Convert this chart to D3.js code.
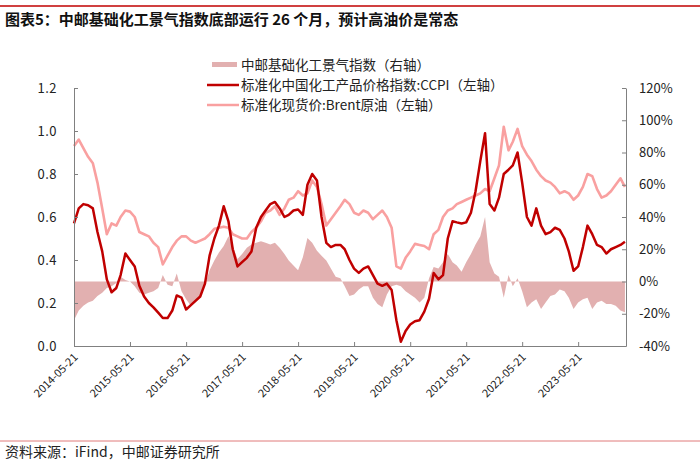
<!DOCTYPE html>
<html>
<head>
<meta charset="utf-8">
<script src="https://cdn.jsdelivr.net/npm/d3@7"></script>
<style>
  body { margin: 0; background: #fff; }
  text { font-family: "Noto Sans CJK SC", "Liberation Sans", sans-serif; }
</style>
</head>
<body>
<script>
// monthly readings from 2014-05 to 2024-03
const ccpi = [
  0.57, 0.64, 0.66, 0.655, 0.64, 0.53, 0.44, 0.31, 0.25, 0.27,
  0.33, 0.43, 0.40, 0.37, 0.28, 0.23, 0.20, 0.18, 0.155, 0.13,
  0.13, 0.165, 0.235, 0.225, 0.17, 0.19, 0.21, 0.23, 0.29, 0.42,
  0.50, 0.56, 0.65, 0.58, 0.45, 0.37, 0.39, 0.41, 0.44, 0.55,
  0.60, 0.63, 0.66, 0.67, 0.64, 0.60, 0.61, 0.63, 0.635, 0.61,
  0.75, 0.80, 0.77, 0.60, 0.48, 0.46, 0.47, 0.47, 0.45, 0.40,
  0.36, 0.34, 0.36, 0.37, 0.33, 0.29, 0.28, 0.29, 0.26, 0.12,
  0.02, 0.07, 0.10, 0.115, 0.12, 0.16, 0.22, 0.34, 0.31, 0.33,
  0.50, 0.58, 0.575, 0.57, 0.575, 0.62, 0.72, 0.86, 0.99, 0.66,
  0.63, 0.69, 0.80, 0.82, 0.84, 0.90, 0.76, 0.60, 0.56, 0.64,
  0.56, 0.52, 0.53, 0.55, 0.54, 0.50, 0.44, 0.35, 0.37, 0.46,
  0.56, 0.52, 0.47, 0.46, 0.43, 0.45, 0.46, 0.47, 0.485
];
const brent = [
  0.93, 0.96, 0.92, 0.88, 0.85, 0.76, 0.64, 0.52, 0.57, 0.56,
  0.60, 0.63, 0.625, 0.60, 0.53, 0.52, 0.51, 0.48, 0.46, 0.38,
  0.42, 0.46, 0.49, 0.51, 0.51, 0.49, 0.48, 0.49, 0.50, 0.52,
  0.545, 0.55, 0.555, 0.55, 0.52, 0.51, 0.50, 0.50, 0.53, 0.55,
  0.58, 0.62, 0.63, 0.65, 0.61, 0.64, 0.68, 0.69, 0.72, 0.70,
  0.71, 0.77, 0.74, 0.66, 0.56, 0.59, 0.62, 0.65, 0.68, 0.66,
  0.62, 0.61, 0.63, 0.62, 0.59, 0.61, 0.63, 0.60, 0.55, 0.37,
  0.36, 0.41, 0.44, 0.475, 0.47, 0.465, 0.45, 0.52, 0.54, 0.60,
  0.63, 0.64, 0.66, 0.67, 0.68, 0.69, 0.70, 0.71, 0.73, 0.72,
  0.78, 0.84, 1.02, 0.91, 0.95, 1.01, 0.93, 0.89, 0.86, 0.82,
  0.79, 0.77, 0.76, 0.74, 0.71, 0.72, 0.71, 0.68, 0.70, 0.74,
  0.80, 0.79, 0.73, 0.69, 0.70, 0.72, 0.75, 0.78, 0.74
];
// 景气指数, percent, right axis
const boom = [
  -24, -18, -15, -13, -12, -9, -7, -4, -3, -1,
  3, 1, 0, -3, -7, -8, -7, -6, -4, 4,
  -2, -3, 5, -6, -11, -15, -13, -10, -2, 7,
  13, 18, 22, 28, 22, 14, 17, 21, 23, 24,
  25, 24, 23, 24, 21, 17, 13, 10, 7, 15,
  27, 24, 19, 16, 13, 8, 3, 2, -3, -9,
  -8, -5, -3, -3, -10, -14, -16, -8, -3, -2,
  -3, -6, -8, -10, -13, -10, 2, 9, 8, 12,
  17, 12, 10, 6, 12, 17, 23, 28, 40, 12,
  5, 3, -10, 4, -3, 2, -6, -16, -13, -11,
  -17, -13, -9, -8, -5, -6, -10, -17, -13, -11,
  -10, -17, -13, -12, -14, -14, -15, -18, -19
];
const leftTicks = [0, 0.2, 0.4, 0.6, 0.8, 1.0, 1.2];
const rightTicks = [-40, -20, 0, 20, 40, 60, 80, 100, 120];
const xTickYears = [2014, 2015, 2016, 2017, 2018, 2019, 2020, 2021, 2022, 2023];

const legendNames = [
  "中邮基础化工景气指数（右轴）",
  "标准化中国化工产品价格指数:CCPI（左轴）",
  "标准化现货价:Brent原油（左轴）"
];

const width = 700, height = 466;
const pLeft = 74, pRight = 626, pTop = 88, pBottom = 346;
const cArea = "#e2b0b0", cCcpi = "#c00000", cBrent = "#f9a0a0";

const startDate = new Date(2014, 4, 21);
const dates = ccpi.map((_, i) => d3.timeMonth.offset(startDate, i));

const svg = d3.select("body").append("svg")
  .attr("width", width)
  .attr("height", height);

const x = d3.scaleTime()
  .domain([startDate, new Date(2024, 2, 28)])
  .range([pLeft, pRight]);
const yL = d3.scaleLinear().domain([0, 1.2]).range([pBottom, pTop]);
const yR = d3.scaleLinear().domain([-40, 120]).range([pBottom, pTop]);

// title + frame lines
svg.append("line").attr("x1", 0).attr("x2", width).attr("y1", 6).attr("y2", 6)
  .attr("stroke", "#c00000").attr("stroke-width", 1.5);
svg.append("text").attr("x", 5).attr("y", 25)
  .attr("font-size", 15).attr("font-weight", "bold").attr("fill", "#111")
  .text("图表5：中邮基础化工景气指数底部运行 26 个月，预计高油价是常态");

svg.append("line").attr("x1", 0).attr("x2", width).attr("y1", 441).attr("y2", 441)
  .attr("stroke", "#e07a7a").attr("stroke-width", 1);
svg.append("text").attr("x", 5).attr("y", 457)
  .attr("font-size", 14).attr("fill", "#222")
  .text("资料来源：iFind，中邮证券研究所");

// area for the index
const area = d3.area()
  .x((d, i) => x(dates[i]))
  .y0(yR(0))
  .y1(d => yR(d));
svg.append("path").datum(boom)
  .attr("d", area)
  .attr("fill", cArea);

const lineL = d3.line()
  .x((d, i) => x(dates[i]))
  .y(d => yL(d));
svg.append("path").datum(brent)
  .attr("d", lineL)
  .attr("fill", "none")
  .attr("stroke", cBrent)
  .attr("stroke-width", 2.6)
  .attr("stroke-linejoin", "round");
svg.append("path").datum(ccpi)
  .attr("d", lineL)
  .attr("fill", "none")
  .attr("stroke", cCcpi)
  .attr("stroke-width", 2.5)
  .attr("stroke-linejoin", "round");

// axes, ticks point inward
const axisColor = "#808080";
const gL = svg.append("g").attr("transform", `translate(${pLeft},0)`)
  .call(d3.axisLeft(yL).tickValues(leftTicks).tickSizeInner(-4).tickSizeOuter(0)
    .tickPadding(17).tickFormat(d3.format(".1f")));
gL.selectAll("text").attr("font-family", "DejaVu Sans").attr("font-size", 13)
  .attr("fill", "#222").attr("letter-spacing", 0.5);

const gR = svg.append("g").attr("transform", `translate(${pRight},0)`)
  .call(d3.axisRight(yR).tickValues(rightTicks).tickSizeInner(-4).tickSizeOuter(0)
    .tickPadding(13).tickFormat(d => d + "%"));
gR.selectAll("text").attr("font-family", "Liberation Sans Narrow, Liberation Sans")
  .attr("font-size", 13).attr("fill", "#222");

const gX = svg.append("g").attr("transform", `translate(0,${pBottom})`)
  .call(d3.axisBottom(x)
    .tickValues(xTickYears.map(yr => new Date(yr, 4, 21)))
    .tickSizeInner(-4).tickSizeOuter(0)
    .tickFormat(d3.timeFormat("%Y-%m-%d")));
gX.selectAll("text")
  .attr("font-family", "Liberation Sans").attr("font-size", 11).attr("fill", "#222")
  .attr("text-anchor", "end")
  .attr("dy", 0).attr("y", 0)
  .attr("transform", "translate(4,12) rotate(-45)");

[gL, gR, gX].forEach(g => {
  g.select(".domain").attr("stroke", axisColor);
  g.selectAll(".tick line").attr("stroke", axisColor);
});

// legend
const lx = 207, lw = 32, ly = [65, 85, 105];
svg.append("rect").attr("x", lx + 5).attr("y", ly[0] - 3).attr("width", lw - 7).attr("height", 5)
  .attr("fill", cArea);
svg.append("line").attr("x1", lx).attr("x2", lx + lw).attr("y1", ly[1]).attr("y2", ly[1])
  .attr("stroke", cCcpi).attr("stroke-width", 2.5);
svg.append("line").attr("x1", lx).attr("x2", lx + lw).attr("y1", ly[2]).attr("y2", ly[2])
  .attr("stroke", cBrent).attr("stroke-width", 2.5);
svg.selectAll(".leg").data(legendNames).enter().append("text")
  .attr("x", lx + lw + 2)
  .attr("y", (d, i) => ly[i] + 5)
  .attr("font-size", 13.5)
  .attr("fill", "#222")
  .text(d => d);
</script>
</body>
</html>
